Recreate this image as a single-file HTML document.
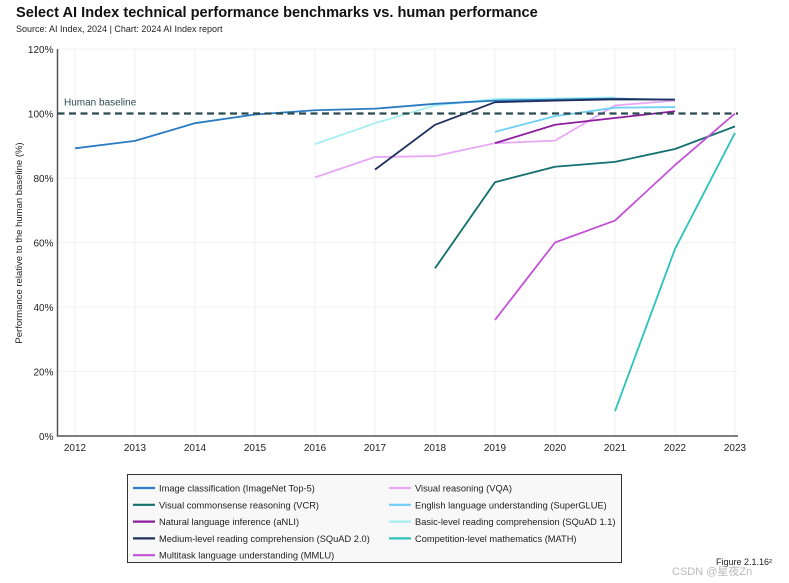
<!DOCTYPE html>
<html><head><meta charset="utf-8"><style>
body{margin:0;background:#fff;font-family:"Liberation Sans",sans-serif;}
#wrap{position:relative;width:789px;height:583px;overflow:hidden;}
.t{position:absolute;white-space:nowrap;}
</style></head><body>
<div id="wrap">
<div class="t" style="left:16px;top:5px;font-size:14.6px;font-weight:bold;color:#111;">Select AI Index technical performance benchmarks vs. human performance</div>
<div class="t" style="left:16px;top:24px;font-size:9px;color:#222;">Source: AI Index, 2024 | Chart: 2024 AI Index report</div>
<svg id="chart" width="789" height="583" style="position:absolute;left:0;top:0"></svg>
<div class="t" style="left:716px;top:557px;font-size:9px;color:#222;">Figure 2.1.16²</div>
<div class="t" style="left:672px;top:563px;font-size:11px;color:#bbb;font-family:'Liberation Sans','Noto Sans CJK SC',sans-serif;">CSDN @星夜Zn</div>
</div>
<script>
const years=[2012,2013,2014,2015,2016,2017,2018,2019,2020,2021,2022,2023];
const yTicks=[0,20,40,60,80,100,120];
const seriesNames=["Image classification (ImageNet Top-5)","Visual commonsense reasoning (VCR)","Natural language inference (aNLI)","Medium-level reading comprehension (SQuAD 2.0)","Multitask language understanding (MMLU)","Visual reasoning (VQA)","English language understanding (SuperGLUE)","Basic-level reading comprehension (SQuAD 1.1)","Competition-level mathematics (MATH)"];
const seriesColors=["#2a7bc2","#12706e","#8e1d9e","#1e2f5c","#c452d8","#e8a8f6","#6fcff5","#a6eff0","#2bc3bb"];
const imagenetYears=[2012,2013,2014,2015,2016,2017,2018,2019,2020,2021,2022];
const imagenetVals=[89.2,91.5,97,99.7,101,101.5,103,104,104.3,104.6,104.3];
const vcrYears=[2018,2019,2020,2021,2022,2023];
const vcrVals=[52,78.7,83.5,85,89,96];
const anliYears=[2019,2020,2021,2022];
const anliVals=[90.8,96.5,98.6,100.7];
const squad2Years=[2017,2018,2019,2020,2021,2022];
const squad2Vals=[82.6,96.5,103.5,104,104.4,104.3];
const mmluYears=[2019,2020,2021,2022,2023];
const mmluVals=[36,60,66.8,84,100];
const vqaYears=[2016,2017,2018,2019,2020,2021,2022];
const vqaVals=[80.2,86.5,86.8,90.8,91.6,102.5,104];
const superglueYears=[2019,2020,2021,2022];
const superglueVals=[94.3,99.2,101.8,102];
const squad11Years=[2016,2017,2018,2019,2020,2021];
const squad11Vals=[90.5,97,102.5,104.5,104.7,105];
const mathYears=[2021,2022,2023];
const mathVals=[7.7,58,94];
const humanBaseline=100;

const seriesYears=[imagenetYears,vcrYears,anliYears,squad2Years,mmluYears,vqaYears,superglueYears,squad11Years,mathYears];
const seriesVals=[imagenetVals,vcrVals,anliVals,squad2Vals,mmluVals,vqaVals,superglueVals,squad11Vals,mathVals];
const drawOrder=[7,5,6,0,3,2,1,4,8];

const NS="http://www.w3.org/2000/svg";
const svg=document.getElementById('chart');
const X0=57.5,X1=738,Y0=436,Y1=49;
function xs(yr){return 75+(yr-2012)*60;}
function ys(v){return Y0-(v/120)*(Y0-Y1);}
function mk(tag,attrs,parent){const e=document.createElementNS(NS,tag);for(const k in attrs)e.setAttribute(k,attrs[k]);(parent||svg).appendChild(e);return e;}

years.forEach(yr=>{
  const g=mk('line',{x1:xs(yr),x2:xs(yr),y1:Y1,y2:Y0,stroke:'#f1f1f1','stroke-width':1});
  
  
  const t=mk('text',{x:xs(yr),y:Y0+15,'text-anchor':'middle','font-size':10,fill:'#222','font-family':'Liberation Sans, sans-serif'});
  t.textContent=yr;
  
  
});
yTicks.forEach(v=>{
  if(v>0&&v!==100){const g=mk('line',{x1:X0,x2:X1,y1:ys(v),y2:ys(v),stroke:'#f3f3f3','stroke-width':1});
  
  }
  const t=mk('text',{x:X0-4,y:ys(v)+4,'text-anchor':'end','font-size':10,fill:'#222','font-family':'Liberation Sans, sans-serif'});
  t.textContent=v+'%';
  
  
});
const ax=mk('path',{d:`M${X0},${Y1} V${Y0} H${X1}`,fill:'none',stroke:'#555','stroke-width':1.5});


const yt=mk('text',{x:0,y:0,transform:`translate(22,243) rotate(-90)`,'text-anchor':'middle','font-size':9.5,fill:'#222','font-family':'Liberation Sans, sans-serif'});
yt.textContent='Performance relative to the human baseline (%)';



drawOrder.forEach(i=>{
  const d=seriesYears[i].map((yr,j)=>(j?'L':'M')+xs(yr)+','+ys(seriesVals[i][j])).join(' ');
  const p=mk('path',{d:d,fill:'none',stroke:seriesColors[i],'stroke-width':1.8,'stroke-linejoin':'round'});
  
  
});
const hb=mk('line',{x1:X0,x2:X1,y1:ys(humanBaseline),y2:ys(humanBaseline),stroke:'#2b4a52','stroke-width':2.2,'stroke-dasharray':'7,4.5'});


const hl=mk('text',{x:64,y:ys(humanBaseline)-8,'font-size':10,fill:'#2b4a52','font-family':'Liberation Sans, sans-serif'});
hl.textContent='Human baseline';



const lb=mk('rect',{x:127.5,y:474.5,width:494,height:88,fill:'#f8f8f8',stroke:'#333','stroke-width':1});


seriesNames.forEach((n,i)=>{
  const col=i<5?0:1, row=i<5?i:i-5;
  const lx=col?389:133, ly=488+row*16.8;
  const g=mk('g',{});
  
  
  mk('line',{x1:lx,x2:lx+22,y1:ly,y2:ly,stroke:seriesColors[i],'stroke-width':2.2},g);
  const t=mk('text',{x:lx+26,y:ly+3.5,'font-size':9.3,fill:'#222','font-family':'Liberation Sans, sans-serif'},g);
  t.textContent=n;
});
</script>
</body></html>
